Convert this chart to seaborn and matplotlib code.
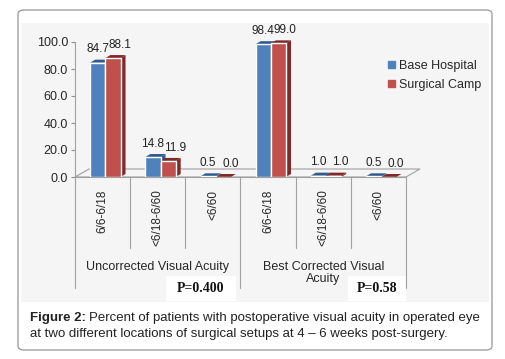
import matplotlib.pyplot as plt
import matplotlib.patches as mpatches
from matplotlib.patches import FancyBboxPatch, Polygon, Rectangle
import pandas as pd
import seaborn as sns

sns.set_theme(style='white')
plt.rcParams['font.family'] = ['Liberation Sans', 'DejaVu Sans']

categories = ['6/6-6/18', '<6/18-6/60', '<6/60', '6/6-6/18', '<6/18-6/60', '<6/60']
keys = ['u1', 'u2', 'u3', 'b1', 'b2', 'b3']
base_hospital = [84.7, 14.8, 0.5, 98.4, 1.0, 0.5]
surgical_camp = [88.1, 11.9, 0.0, 99.0, 1.0, 0.0]
groups = ['Uncorrected Visual Acuity', 'Best Corrected Visual\nAcuity']
p_values = ['P=0.400', 'P=0.58']
series = ['Base Hospital', 'Surgical Camp']
colors = ['#4f81bd', '#c0504d']
side_colors = ['#2f5b8f', '#7f2a28']

df = pd.DataFrame({
    'key': keys * 2,
    'value': base_hospital + surgical_camp,
    'setting': [series[0]] * 6 + [series[1]] * 6,
})

fig = plt.figure(figsize=(5.06, 3.59), dpi=100)
W, H = 506, 359

# outer rounded frame + grey chart panel
fig.patches.append(FancyBboxPatch((18 / W, 9 / H), 474 / W, 340 / H,
                                  boxstyle='round,pad=0,rounding_size=0.012',
                                  transform=fig.transFigure, fc='white', ec='#a0a0a0',
                                  lw=1, zorder=-3))
fig.patches.append(Rectangle((21 / W, 57 / H), 468 / W, 279 / H,
                             transform=fig.transFigure, fc='#f5f5f5', ec='none', zorder=-2))

ax = fig.add_axes([75 / W, 1 - 177 / H, 331 / W, 135 / H])
ax.set_facecolor('none')
sns.barplot(data=df, x='key', y='value', hue='setting', order=keys,
            palette=colors, width=0.55, saturation=1, ax=ax, legend=False)
ax.set_ylim(0, 100)
ax.set_xlim(-0.5, 5.5)

# depth in data units
px_x = 6 / 331
px_y = 100 / 135
dx, dy = 5 * px_x, 3 * px_y

# floor
fdx, fdy = 14 * px_x, 8 * px_y
ax.add_patch(Polygon([(-0.5, 0), (5.5, 0), (5.5 + fdx, fdy), (-0.5 + fdx, fdy)],
                     closed=True, fc='none', ec='#a0a0a0', lw=0.8, clip_on=False, zorder=1))

for i, bars in enumerate(ax.containers):
    vals = base_hospital if i == 0 else surgical_camp
    for bar, v in zip(bars, vals):
        x0, w, h = bar.get_x(), bar.get_width(), bar.get_height()
        x0 = x0 + 0.05
        bar.set_x(x0)
        bar.set_zorder(3)
        ax.add_patch(Polygon([(x0 + w, 0), (x0 + w + dx, dy), (x0 + w + dx, h + dy), (x0 + w, h)],
                             closed=True, fc=side_colors[i], ec='none', zorder=2, clip_on=False))
        ax.add_patch(Polygon([(x0, h), (x0 + w, h), (x0 + w + dx, h + dy), (x0 + dx, h + dy)],
                             closed=True, fc=side_colors[i], ec='none', zorder=2, clip_on=False))
        shift = (0 if i == 0 else 7) * px_x
        ax.annotate(f'{v:.1f}', (x0 + w / 2 + shift, h + dy),
                    xytext=(0, 3), textcoords='offset points', ha='center', va='bottom',
                    fontsize=8.5, color='#222222', annotation_clip=False, zorder=5)

ax.set_yticks(range(0, 101, 20))
ax.set_yticklabels([f'{t:.1f}' for t in range(0, 101, 20)], fontsize=9)
ax.tick_params(axis='y', length=3, color='#909090', width=0.8, pad=2, left=True)
ax.set_xticks([])
ax.set_xlabel('')
ax.set_ylabel('')
for s in ['top', 'right', 'bottom']:
    ax.spines[s].set_visible(False)
ax.spines['left'].set_color('#a0a0a0')
ax.spines['left'].set_linewidth(0.8)

# category labels + dividers below the axis
for k, lab in enumerate(categories):
    ax.annotate(lab, (k, 0), xytext=(0, -9), textcoords='offset points',
                rotation=90, ha='center', va='top', fontsize=8.5, annotation_clip=False)
for k in range(7):
    long = k in (0, 3, 6)
    ax.plot([k - 0.5, k - 0.5], [0, -(111 if long else 71) * px_y], color='#a0a0a0',
            lw=0.8, clip_on=False, zorder=1)
ax.plot([-0.5, 5.5], [0, 0], color='#a0a0a0', lw=0.8, clip_on=False, zorder=1)

for g, lab in enumerate(groups):
    ax.text(1 + 3 * g, -84 * px_y, lab, ha='center', va='top', fontsize=9,
            linespacing=1.05, clip_on=False)

# P-value boxes
for x0_px, x1_px, lab in [(166, 236, p_values[0]), (348, 406, p_values[1])]:
    fig.patches.append(Rectangle((x0_px / W, 1 - 301 / H), (x1_px - x0_px) / W, 25 / H,
                                 transform=fig.transFigure, fc='white', ec='none', zorder=-1))
    fig.text((x0_px + x1_px) / 2 / W, 1 - 288 / H, lab, ha='center', va='center',
             fontsize=10, fontweight='bold', family='Liberation Serif', color='#111111')

# legend
handles = [mpatches.Patch(color=c, label=s) for c, s in zip(colors, series)]
fig.legend(handles=handles, loc='upper left', bbox_to_anchor=(383 / W, 1 - 55 / H),
           frameon=False, fontsize=9, handlelength=0.55, handleheight=0.55,
           handletextpad=0.3, labelspacing=0.55, borderaxespad=0)

# caption
cap = fig.text(30 / W, 1 - 318 / H, 'Figure 2:', fontsize=9.5, fontweight='bold',
               va='center', ha='left', color='#222222')
renderer = fig.canvas.get_renderer()
bb = cap.get_window_extent(renderer)
fig.text((bb.x1 + 3) / W, 1 - 318 / H,
         'Percent of patients with postoperative visual acuity in operated eye',
         fontsize=9.5, va='center', ha='left', color='#222222')
fig.text(30 / W, 1 - 334 / H, 'at two different locations of surgical setups at 4 \u2013 6 weeks post-surgery.',
         fontsize=9.5, va='center', ha='left', color='#222222')

plt.savefig('out.png', dpi=100)
